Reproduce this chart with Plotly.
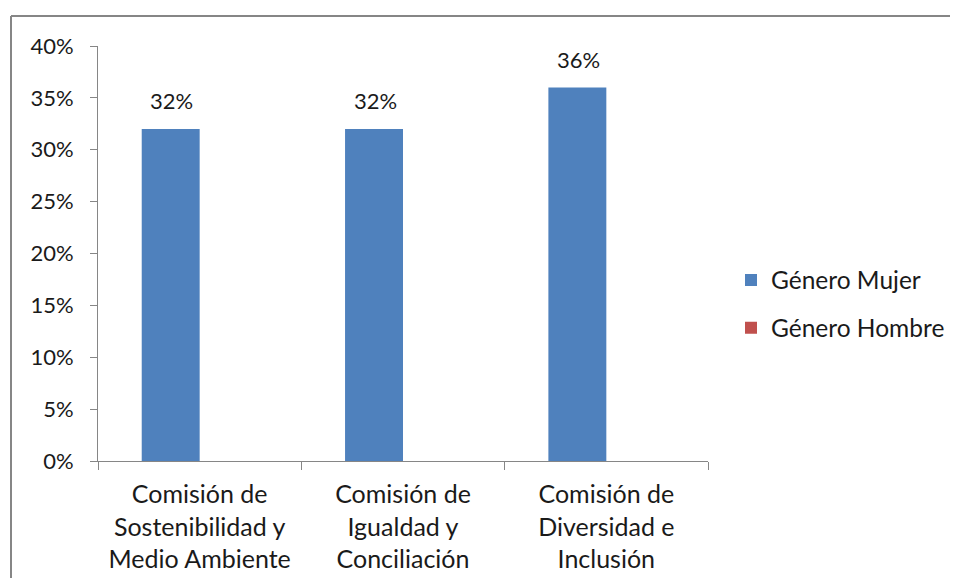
import plotly.graph_objects as go

categories = ["Comisión de<br>Sostenibilidad y<br>Medio Ambiente",
              "Comisión de<br>Igualdad y<br>Conciliación",
              "Comisión de<br>Diversidad e<br>Inclusión"]
mujer = [0.32, 0.32, 0.36]
hombre = [0.0, 0.0, 0.0]
mujer_labels = ["32%", "32%", "36%"]

# page body adds an 8px offset; figure pixels = picture pixels - 8
W, H = 942, 570
L, T = 90, 38
pw, ph = 610, 415
R, B = W - L - pw, H - T - ph

FONT = "Lato"
TXT = "#1a1a1a"
AX = "#868686"

fig = go.Figure()
fig.add_trace(go.Bar(x=categories, y=mujer, name="Género Mujer",
                     marker=dict(color="#4F81BD", line=dict(width=0)),
                     legendgroup="m"))
fig.add_trace(go.Bar(x=categories, y=hombre, name="Género Hombre",
                     marker=dict(color="#C0504D", line=dict(width=0)),
                     legendgroup="h"))

for c, v, t in zip(categories, mujer, mujer_labels):
    fig.add_annotation(x=c, y=v, text=t, showarrow=False, xref="x", yref="y",
                       yanchor="bottom", xshift=-28, yshift=13,
                       font=dict(family=FONT, size=22, color=TXT))

# chart-area border (left and top edges; right/bottom fall outside the picture)
bx0 = (3 - L) / pw
by1 = (T + ph - 8) / ph
fig.add_shape(type="line", xref="paper", yref="paper",
              x0=bx0, x1=(W + 40 - L) / pw, y0=by1, y1=by1,
              line=dict(color=AX, width=2), layer="below")
fig.add_shape(type="line", xref="paper", yref="paper",
              x0=bx0, x1=bx0, y0=-(H + 40 - (T + ph)) / ph, y1=by1,
              line=dict(color=AX, width=2), layer="below")

fig.update_layout(
    width=W, height=H,
    margin=dict(l=L, r=R, t=T, b=B, pad=0, autoexpand=False),
    paper_bgcolor="white", plot_bgcolor="white",
    barmode="group", bargap=0.43, bargroupgap=0,
    font=dict(family=FONT, size=24, color=TXT),
    showlegend=True,
    legend=dict(x=(723 - L) / pw, y=(T + ph - 296) / ph, xanchor="left", yanchor="middle",
                tracegroupgap=13, font=dict(family=FONT, size=24.5, color=TXT),
                itemwidth=30),
    xaxis=dict(type="category", showline=True, linecolor=AX, linewidth=1,
               ticks="outside", tickson="boundaries", ticklen=8, tickcolor=AX,
               showgrid=False, zeroline=False, ticklabelstandoff=11,
               tickfont=dict(family=FONT, size=25, color=TXT)),
    yaxis=dict(range=[0, 0.4], dtick=0.05, tickformat=".0%",
               showline=True, linecolor=AX, linewidth=1,
               ticks="outside", ticklen=7, tickcolor=AX,
               showgrid=False, zeroline=False, ticklabelstandoff=12,
               tickfont=dict(family=FONT, size=22, color=TXT)),
)

fig.write_html("out.html")
